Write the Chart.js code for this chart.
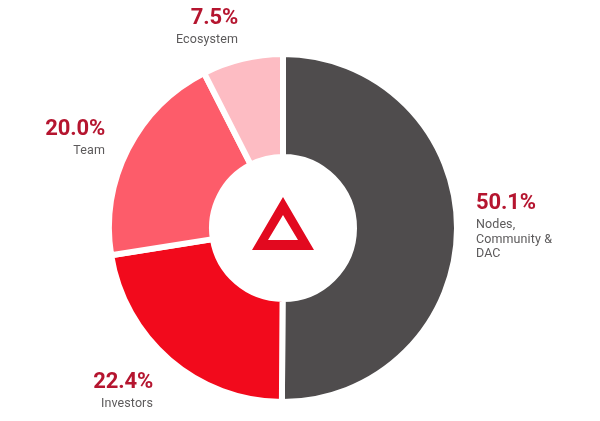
<!DOCTYPE html>
<html>
<head>
<meta charset="utf-8">
<style>
  html, body { margin: 0; padding: 0; background: #fff; }
  #wrap { width: 600px; height: 421px; position: relative; }
</style>
<script src="https://cdn.jsdelivr.net/npm/chart.js@4"></script>
</head>
<body>
<div id="wrap"><canvas id="chart"></canvas></div>
<script>
const categories = ['Nodes, Community & DAC', 'Investors', 'Team', 'Ecosystem'];
const shares = [50.1, 22.4, 20.0, 7.5];
const colors = ['#4f4c4d', '#f20a1c', '#fd5c6a', '#fdbcc3'];
const percentLabels = ['50.1%', '22.4%', '20.0%', '7.5%'];
const nameLines = [['Nodes,', 'Community &', 'DAC'], ['Investors'], ['Team'], ['Ecosystem']];

// where each label block sits: x, baseline of the percent, text align
const labelSpots = [
  [476, 209, 'left'],
  [153, 388, 'right'],
  [105, 135, 'right'],
  [238, 24, 'right']
];

const calloutPlugin = {
  id: 'callouts',
  afterDraw(chart) {
    const ctx = chart.ctx;
    ctx.save();
    ctx.textBaseline = 'alphabetic';
    labelSpots.forEach((spot, i) => {
      ctx.textAlign = spot[2];
      ctx.font = 'bold 22px Roboto';
      ctx.letterSpacing = '-0.15px';
      ctx.fillStyle = '#b5152f';
      ctx.fillText(percentLabels[i], spot[0], spot[1]);
      ctx.font = '12.5px Roboto';
      ctx.letterSpacing = '0.1px';
      ctx.fillStyle = '#5c5a5b';
      nameLines[i].forEach((line, j) => {
        ctx.fillText(line, spot[0], spot[1] + 19 + j * 14.5);
      });
    });
    ctx.restore();
  }
};

const logoPlugin = {
  id: 'logo',
  afterDraw(chart) {
    const ctx = chart.ctx;
    const arc = chart.getDatasetMeta(0).data[0];
    const cx = arc.x, cy = arc.y;
    ctx.save();
    ctx.fillStyle = '#e2091f';
    ctx.beginPath();
    ctx.moveTo(cx, cy - 31);
    ctx.lineTo(cx + 31, cy + 22);
    ctx.lineTo(cx - 31, cy + 22);
    ctx.closePath();
    ctx.moveTo(cx, cy - 13);
    ctx.lineTo(cx - 15, cy + 12);
    ctx.lineTo(cx + 15, cy + 12);
    ctx.closePath();
    ctx.fill('evenodd');
    ctx.restore();
  }
};

new Chart(document.getElementById('chart'), {
  type: 'doughnut',
  data: {
    labels: categories,
    datasets: [{ data: shares, backgroundColor: colors, borderColor: '#ffffff', borderWidth: 6 }]
  },
  options: {
    responsive: true,
    maintainAspectRatio: false,
    animation: false,
    cutout: '40.8%',
    layout: { padding: { left: 106, right: 140, top: 51, bottom: 16 } },
    plugins: { legend: { display: false }, tooltip: { enabled: false } }
  },
  plugins: [calloutPlugin, logoPlugin]
});
</script>
</body>
</html>
